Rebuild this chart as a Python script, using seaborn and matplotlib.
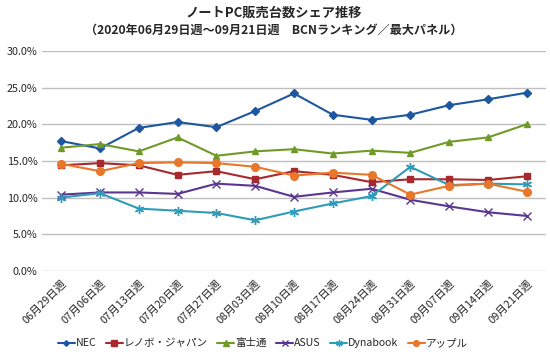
import matplotlib
matplotlib.use("Agg")
import matplotlib.pyplot as plt
import pandas as pd
import seaborn as sns

weeks = ["06月29日週", "07月06日週", "07月13日週", "07月20日週", "07月27日週",
         "08月03日週", "08月10日週", "08月17日週", "08月24日週", "08月31日週",
         "09月07日週", "09月14日週", "09月21日週"]

nec = [17.7, 16.7, 19.5, 20.3, 19.6, 21.8, 24.2, 21.3, 20.6, 21.3, 22.6, 23.4, 24.3]
lenovo = [14.4, 14.7, 14.4, 13.1, 13.6, 12.5, 13.6, 13.1, 12.1, 12.5, 12.5, 12.4, 12.9]
fujitsu = [16.8, 17.3, 16.3, 18.2, 15.7, 16.3, 16.6, 16.0, 16.4, 16.1, 17.6, 18.2, 20.0]
asus = [10.4, 10.7, 10.7, 10.5, 11.9, 11.6, 10.1, 10.7, 11.2, 9.7, 8.8, 8.0, 7.5]
dynabook = [10.0, 10.6, 8.5, 8.2, 7.9, 6.9, 8.1, 9.2, 10.2, 14.2, 11.7, 11.9, 11.8]
apple = [14.6, 13.6, 14.7, 14.8, 14.7, 14.2, 13.0, 13.4, 13.1, 10.4, 11.6, 11.9, 10.8]

makers = ["NEC", "レノボ・ジャパン", "富士通", "ASUS", "Dynabook", "アップル"]
series = [nec, lenovo, fujitsu, asus, dynabook, apple]

colors = ["#1F56A0", "#A8292B", "#6F9A28", "#5A3690", "#2E9CB8", "#E8772A"]
markers = ["D", "s", "^", "x", (6, 2, 0), "o"]
sizes = [3.8, 5, 5, 5.5, 6.5, 5.5]

rows = []
for m, vals in zip(makers, series):
    for i, v in enumerate(vals):
        rows.append({"week": i, "maker": m, "share": v})
df = pd.DataFrame(rows)

sns.set_style("white")
plt.rcParams['font.family'] = ['Noto Sans CJK JP', 'DejaVu Sans']

fig = plt.figure(figsize=(5.5, 3.56), dpi=100)
ax = fig.add_axes([0.076, 0.239, 0.917, 0.618])

for m, c, mk, s in zip(makers, colors, markers, sizes):
    sub = df[df["maker"] == m]
    sns.lineplot(data=sub, x="week", y="share", ax=ax, color=c, marker=mk,
                 markersize=s, markeredgecolor=c, markeredgewidth=1.0,
                 linewidth=1.5, label=m, zorder=3)

ax.set_xlim(-0.5, len(weeks) - 0.5)
ax.set_ylim(0, 30)
ax.set_yticks([0, 5, 10, 15, 20, 25, 30])
ax.set_yticklabels([f"{v:.1f}%" for v in [0, 5, 10, 15, 20, 25, 30]], fontsize=7.8)
ax.set_xticks(range(len(weeks)))
ax.set_xticklabels(weeks, rotation=45, ha="right", rotation_mode="anchor", fontsize=7.8)
ax.tick_params(axis="both", length=0, pad=3)
ax.tick_params(axis="x", pad=5)
ax.yaxis.grid(True, color="#BFBFBF", linewidth=1.0, zorder=0)
ax.set_axisbelow(True)
for sp in ax.spines.values():
    sp.set_visible(False)
ax.set_xlabel("")
ax.set_ylabel("")

ax.legend_.remove()
handles, labels = ax.get_legend_handles_labels()
fig.legend(handles, labels, loc="center", bbox_to_anchor=(0.478, 0.036), ncol=6,
           frameon=False, fontsize=7.6, handlelength=1.6, columnspacing=0.9,
           handletextpad=0.1, borderaxespad=0, markerscale=0.75)

fig.text(0.498, 0.965, "ノートPC販売台数シェア推移", ha="center", va="center",
         fontsize=9.5, fontweight="bold")
fig.text(0.498, 0.915, "（2020年06月29日週～09月21日週　BCNランキング／最大パネル）",
         ha="center", va="center", fontsize=8.7, fontweight="bold")

fig.savefig("out.png", dpi=100)
